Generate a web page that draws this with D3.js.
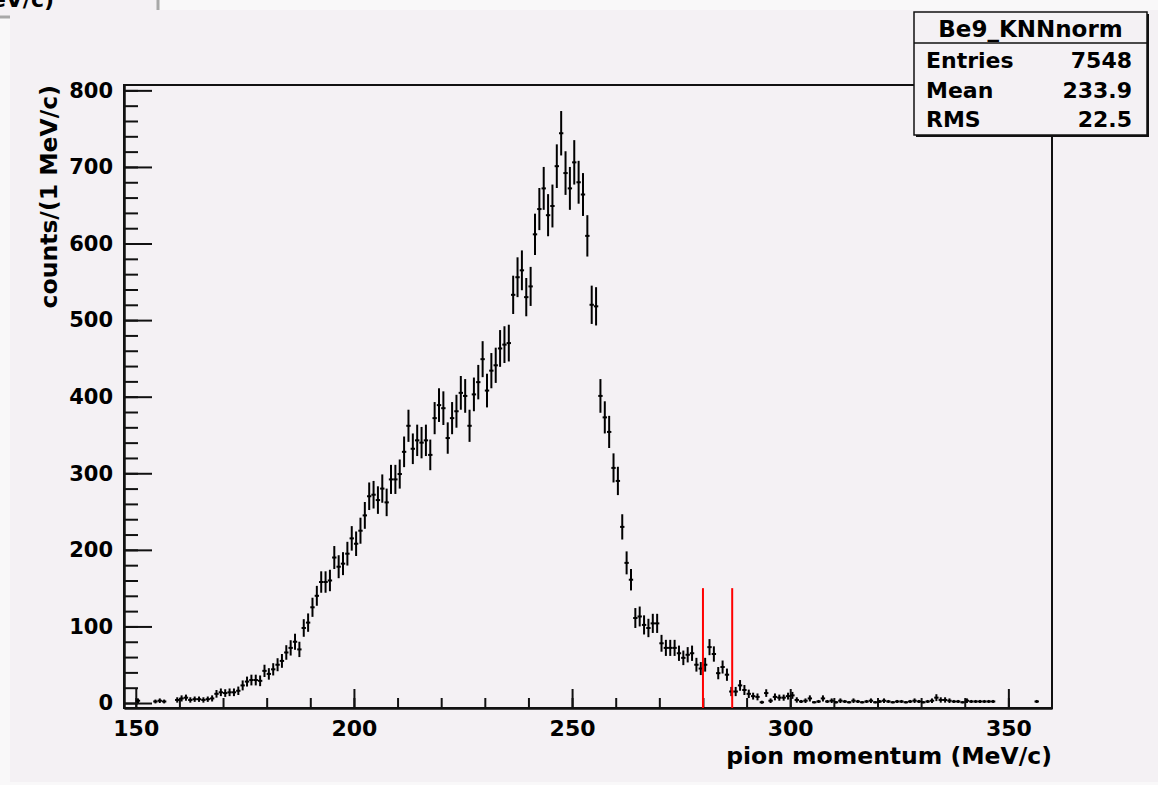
<!DOCTYPE html>
<html>
<head>
<meta charset="utf-8">
<script src="https://d3js.org/d3.v7.min.js"></script>
<style>
body { margin: 0; background: #f9f8f9; overflow: hidden; }
svg text { font-family: "DejaVu Sans", sans-serif; font-weight: bold; fill: #000; }
</style>
</head>
<body>
<div id="chart"></div>
<script>

// histogram content, 1 MeV/c bins, first bin starts at 150
var firstBin = 150;
var counts = [
  3, 0, 0, 0, 2, 3, 2, 0, 0, 4,
  6, 7, 4, 5, 5, 4, 5, 6, 12, 14,
  13, 14, 14, 16, 23, 28, 30, 30, 29, 42,
  38, 44, 50, 55, 66, 72, 80, 70, 98, 105,
  125, 140, 158, 158, 160, 190, 178, 182, 195, 215,
  208, 225, 245, 270, 272, 265, 280, 262, 292, 292,
  299, 328, 362, 332, 343, 340, 343, 324, 372, 389,
  385, 346, 372, 381, 405, 401, 362, 403, 419, 449,
  408, 434, 441, 463, 468, 470, 533, 556, 565, 530,
  544, 612, 645, 672, 637, 649, 701, 744, 692, 672,
  706, 680, 664, 610, 520, 518, 401, 373, 354, 307,
  290, 230, 183, 161, 111, 113, 102, 98, 104, 104,
  78, 72, 72, 72, 65, 59, 63, 65, 50, 45,
  50, 73, 64, 39, 47, 37, 15, 15, 23, 17,
  12, 9, 8, 1, 13, 3, 8, 7, 7, 9,
  10, 4, 2, 3, 6, 1, 2, 6, 2, 3,
  1, 3, 2, 1, 3, 2, 1, 2, 3, 1,
  2, 3, 2, 1, 2, 2, 1, 2, 3, 2,
  1, 2, 3, 7, 4, 4, 3, 2, 2, 1,
  3, 2, 2, 2, 2, 2, 2, 0, 0, 0,
  0, 0, 0, 0, 0, 0, 2, 0
];
// error bar half lengths
var errors = [
  3, 0, 0, 0, 2.5, 3, 2.5, 0, 0, 3.5,
  4, 4, 3.5, 3.5, 3.5, 3.5, 3.5, 4, 5, 5,
  5, 5, 5, 5.5, 6.5, 6.5, 7, 7, 7, 8,
  7.5, 8, 8.5, 9, 9.5, 10, 10.5, 10, 11.5, 12,
  12.5, 13, 14, 14, 14, 15, 15, 15, 15.5, 16,
  16, 17, 17.5, 18, 18, 18, 18.5, 18, 19, 19,
  19, 20, 21, 20, 20.5, 20.5, 20.5, 20, 21, 22,
  22, 20.5, 21, 21.5, 22, 22, 21, 22, 22.5, 23.5,
  22, 23, 23, 24, 24, 24, 25, 26, 26, 25,
  25.5, 27, 27.5, 28, 27.5, 28, 28.5, 29, 28.5, 28,
  29, 28, 28, 27, 25, 25, 22, 21, 21, 19,
  18.5, 16.5, 15, 14, 13, 13, 12.5, 12, 12.5, 12.5,
  11, 10.5, 10.5, 10.5, 10, 9.5, 10, 10, 9, 8.5,
  9, 10.5, 10, 8, 8.5, 8, 6, 6, 7, 6.5,
  5.5, 4.5, 4.5, 2, 5, 3, 4.5, 4, 4, 4.5,
  4.5, 3.5, 2, 3, 4, 1.5, 2, 4, 2, 3,
  1.5, 3, 2, 1.5, 3, 2, 1.5, 2, 3, 1.5,
  2, 3, 2, 1.5, 2, 2, 1.5, 2, 3, 2,
  1.5, 2, 3, 4.5, 3.5, 3.5, 3, 2, 2, 1.5,
  3, 2, 2, 2, 2, 2, 2, 0, 0, 0,
  0, 0, 0, 0, 0, 0, 2, 0
];

var xRange = [147.3, 360];
var yRange = [-6.5, 807];
var xMajor = [150, 200, 250, 300, 350];
var xMinor = d3.range(150, 360, 10);
var yMajor = [0, 100, 200, 300, 400, 500, 600, 700, 800];
var yMinor = d3.range(0, 807, 20);

var cutLines = [280, 286.7];
var cutTop = 150;

var statsTitle = "Be9_KNNnorm";
var statsNames = ["Entries", "Mean", "RMS"];
var statsValues = ["7548", "233.9", "22.5"];

var xTitle = "pion momentum (MeV/c)";
var yTitle = "counts/(1 MeV/c)";

var W = 1158, H = 785;
var bg = "#f4f1f4";
var frame = {left: 124, right: 1052, top: 85, bottom: 708};

var svg = d3.select("#chart").append("svg")
  .attr("width", W)
  .attr("height", H);

svg.append("rect").attr("width", W).attr("height", H).attr("fill", "#f9f8f9");

// piece of the window behind, top left
svg.append("rect")
  .attr("x", -10).attr("y", -20).attr("width", 168).attr("height", 37)
  .attr("fill", bg).attr("stroke", "#a8a8a8").attr("stroke-width", 3);
svg.append("text")
  .attr("x", 54).attr("y", 7)
  .attr("text-anchor", "end")
  .style("font-size", "22px")
  .text("eV/c)");
svg.append("rect")
  .attr("x", 10).attr("y", 10).attr("width", W - 10).attr("height", H - 13)
  .attr("fill", bg);

var x = d3.scaleLinear().domain(xRange).range([frame.left, frame.right]);
var y = d3.scaleLinear().domain(yRange).range([frame.bottom, frame.top]);

// frame
svg.append("rect")
  .attr("x", frame.left).attr("y", frame.top)
  .attr("width", frame.right - frame.left)
  .attr("height", frame.bottom - frame.top)
  .attr("fill", "none").attr("stroke", "#111").attr("stroke-width", 2);

// x axis
var gx = svg.append("g").attr("transform", "translate(0," + frame.bottom + ")");
gx.append("g")
  .call(d3.axisBottom(x).tickValues(xMinor).tickSize(-10).tickSizeOuter(0).tickFormat(""));
gx.append("g").attr("class", "xlab")
  .call(d3.axisBottom(x).tickValues(xMajor).tickSize(-19).tickSizeOuter(0).tickPadding(12)
    .tickFormat(d3.format("d")));

// y axis
var gy = svg.append("g").attr("transform", "translate(" + frame.left + ",0)");
gy.append("g")
  .call(d3.axisLeft(y).tickValues(yMinor).tickSize(-14).tickSizeOuter(0).tickFormat(""));
gy.append("g")
  .call(d3.axisLeft(y).tickValues(yMajor).tickSize(-28).tickSizeOuter(0).tickPadding(11)
    .tickFormat(d3.format("d")));

svg.selectAll(".domain").attr("stroke", "#111").attr("stroke-width", 2);
svg.selectAll(".tick line").attr("stroke", "#111").attr("stroke-width", 2);
svg.selectAll(".tick text")
  .style("font-family", "'DejaVu Sans', sans-serif")
  .style("font-weight", "bold")
  .style("font-size", "21px")
  .attr("fill", "#000");
svg.selectAll(".xlab .tick text").style("font-size", "22px");

// axis titles
svg.append("text")
  .attr("x", frame.right).attr("y", 764)
  .attr("text-anchor", "end")
  .style("font-size", "23.5px")
  .text(xTitle);

svg.append("text")
  .attr("transform", "translate(57," + frame.top + ") rotate(-90)")
  .attr("text-anchor", "end")
  .style("font-size", "23.5px")
  .text(yTitle);

// histogram points with error bars
var bins = counts.map(function(c, i) {
  return {lo: firstBin + i, hi: firstBin + i + 1, v: c, e: errors[i]};
}).filter(function(d) { return d.v > 0; });

var gh = svg.append("g").attr("stroke", "#000").attr("stroke-width", 2);
gh.selectAll(".ex").data(bins).enter().append("line")
  .attr("class", "ex")
  .attr("x1", function(d) { return x(d.lo); })
  .attr("x2", function(d) { return x(d.hi); })
  .attr("y1", function(d) { return y(d.v); })
  .attr("y2", function(d) { return y(d.v); });
gh.selectAll(".ey").data(bins).enter().append("line")
  .attr("class", "ey")
  .attr("x1", function(d) { return x((d.lo + d.hi) / 2); })
  .attr("x2", function(d) { return x((d.lo + d.hi) / 2); })
  .attr("y1", function(d) { return y(Math.max(d.v - d.e, yRange[0])); })
  .attr("y2", function(d) { return y(d.v + d.e); });

// red cut lines
svg.selectAll(".cut").data(cutLines).enter().append("line")
  .attr("class", "cut")
  .attr("x1", function(d) { return x(d); })
  .attr("x2", function(d) { return x(d); })
  .attr("y1", y(yRange[0]))
  .attr("y2", y(cutTop))
  .attr("stroke", "#ff0000").attr("stroke-width", 2);

// stats box
var sb = {x: 914, y: 12, w: 233, h: 123};
svg.append("rect")
  .attr("x", sb.x + 2).attr("y", sb.y + 2).attr("width", sb.w).attr("height", sb.h)
  .attr("fill", "#111");
svg.append("rect")
  .attr("x", sb.x).attr("y", sb.y).attr("width", sb.w).attr("height", sb.h)
  .attr("fill", bg).attr("stroke", "#111").attr("stroke-width", 1.5);
svg.append("line")
  .attr("x1", sb.x).attr("x2", sb.x + sb.w)
  .attr("y1", 43).attr("y2", 43)
  .attr("stroke", "#111").attr("stroke-width", 1.5);
svg.append("text")
  .attr("x", sb.x + sb.w / 2).attr("y", 37)
  .attr("text-anchor", "middle")
  .style("font-size", "23px")
  .text(statsTitle);

var rowY = [68, 98, 127];
statsNames.forEach(function(n, i) {
  svg.append("text")
    .attr("x", 926).attr("y", rowY[i])
    .style("font-size", "22px")
    .text(n);
  svg.append("text")
    .attr("x", 1132).attr("y", rowY[i])
    .attr("text-anchor", "end")
    .style("font-size", "22px")
    .text(statsValues[i]);
});

</script>
</body>
</html>
